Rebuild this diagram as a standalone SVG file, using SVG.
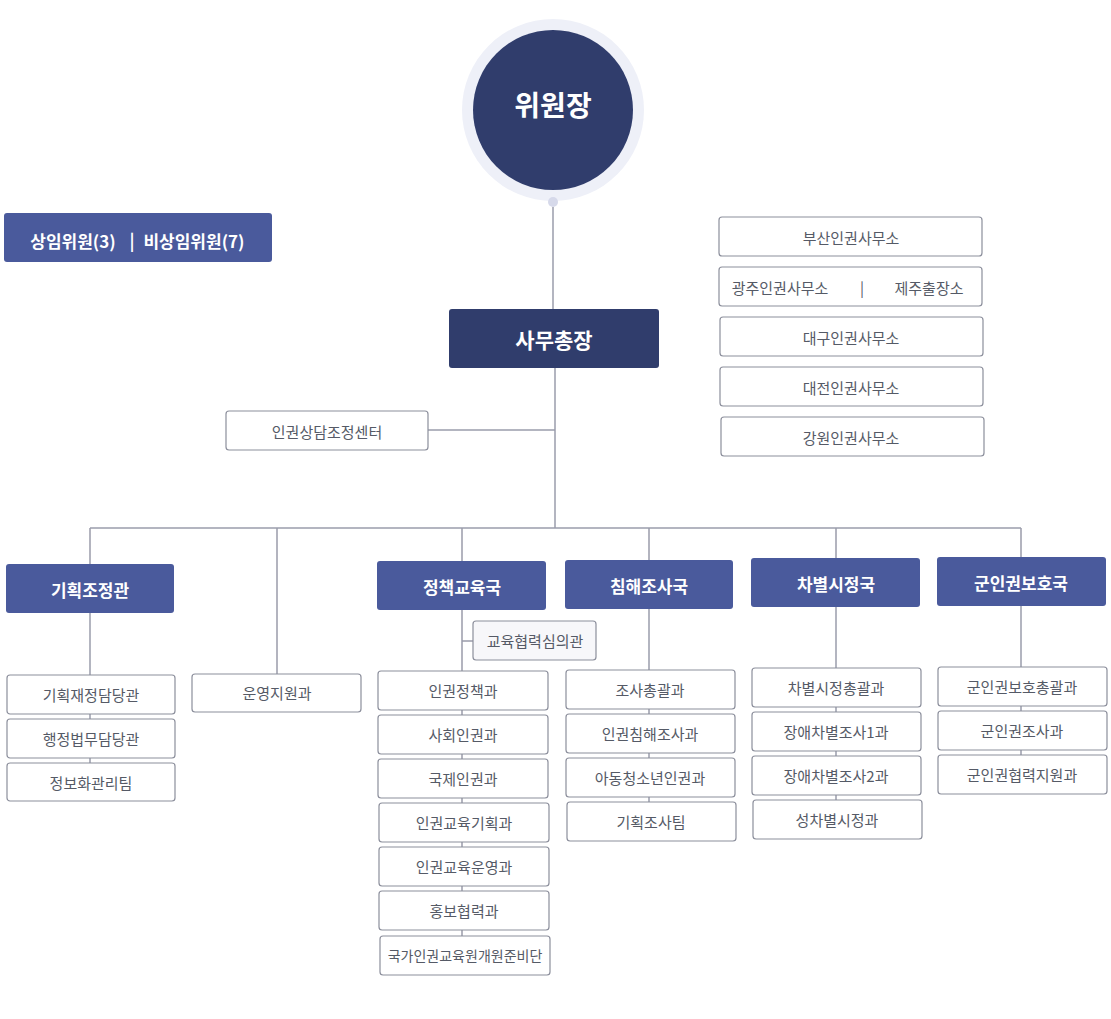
<svg xmlns="http://www.w3.org/2000/svg" width="1111" height="1019" viewBox="0 0 1111 1019">
<style>
text{font-family:"Noto Sans CJK KR","Noto Sans",sans-serif;text-anchor:middle;dominant-baseline:central}
.sub rect{fill:#ffffff;stroke:#8c8f9c;stroke-width:1.2}
.sub text{fill:#555a66;font-size:15px}
.hd rect{fill:#4a5a9c}
.hd text{fill:#ffffff;font-size:17px;font-weight:bold}
.ln{stroke:#9a9cab;stroke-width:1.5;fill:none}
</style>
<rect width="1111" height="1019" fill="#ffffff"/>
<g id="connectors" class="ln">
<path d="M553 207V310"/>
<path d="M555 368V528"/>
<path d="M428 430H555"/>
<path d="M90 528H1021"/>
<path d="M90 528V565M277 528V674M462 528V561M649 528V560M836 528V558M1021 528V557"/>
<path d="M90 613V763"/>
<path d="M462 610V936M462 641H473"/>
<path d="M649 609V802"/>
<path d="M836 607V800"/>
<path d="M1021 606V755"/>
</g>
<g id="chair">
<circle cx="553" cy="110" r="91" fill="#eef0f8"/>
<circle cx="553" cy="110" r="80" fill="#303d6c"/>
<text x="553" y="104" fill="#ffffff" font-size="28" font-weight="bold">위원장</text>
<circle cx="553" cy="202" r="5" fill="#d6d9ea"/>
</g>
<g id="commissioners" class="hd">
<rect x="4" y="213" width="268" height="49" rx="3"/>
<text x="73" y="240">상임위원(3)</text>
<text x="132" y="239">|</text>
<text x="194" y="240">비상임위원(7)</text>
</g>
<g id="secgen">
<rect x="449" y="309" width="210" height="59" rx="3" fill="#303d6c"/>
<text x="554" y="339" fill="#ffffff" font-size="21" font-weight="bold">사무총장</text>
</g>
<g id="center" class="sub">
<rect x="226" y="411" width="202" height="39" rx="3"/>
<text x="327" y="431">인권상담조정센터</text>
</g>
<g id="offices" class="sub">
<rect x="719" y="217" width="263" height="39" rx="3"/><text x="851" y="237">부산인권사무소</text>
<rect x="719" y="267" width="263" height="39" rx="3"/><text x="780" y="287">광주인권사무소</text><text x="862" y="287">|</text><text x="929" y="287">제주출장소</text>
<rect x="720" y="317" width="263" height="39" rx="3"/><text x="851" y="337">대구인권사무소</text>
<rect x="720" y="367" width="263" height="39" rx="3"/><text x="851" y="387">대전인권사무소</text>
<rect x="721" y="417" width="263" height="39" rx="3"/><text x="851" y="437">강원인권사무소</text>
</g>
<g id="h1" class="hd"><rect x="6" y="564" width="168" height="49" rx="3"/><text x="90" y="589">기획조정관</text></g>
<g id="h2" class="hd"><rect x="377" y="561" width="169" height="49" rx="3"/><text x="462" y="586">정책교육국</text></g>
<g id="h3" class="hd"><rect x="565" y="560" width="168" height="49" rx="3"/><text x="649" y="585">침해조사국</text></g>
<g id="h4" class="hd"><rect x="751" y="558" width="169" height="49" rx="3"/><text x="836" y="583">차별시정국</text></g>
<g id="h5" class="hd"><rect x="937" y="557" width="169" height="49" rx="3"/><text x="1021" y="582">군인권보호국</text></g>
<g id="col1" class="sub">
<rect x="7" y="675" width="168" height="39" rx="3"/><text x="91" y="694">기획재정담당관</text>
<rect x="7" y="719" width="168" height="39" rx="3"/><text x="91" y="738">행정법무담당관</text>
<rect x="7" y="763" width="168" height="38" rx="3"/><text x="91" y="782">정보화관리팀</text>
</g>
<g id="col1b" class="sub">
<rect x="192" y="674" width="169" height="38" rx="3"/><text x="277" y="692">운영지원과</text>
</g>
<g id="col2" class="sub">
<rect x="473" y="621" width="123" height="39" rx="3" style="fill:#f7f7fa"/><text x="535" y="640">교육협력심의관</text>
<rect x="378" y="671" width="170" height="39" rx="3"/><text x="463" y="690">인권정책과</text>
<rect x="378" y="715" width="170" height="39" rx="3"/><text x="463" y="734">사회인권과</text>
<rect x="378" y="759" width="170" height="39" rx="3"/><text x="463" y="778">국제인권과</text>
<rect x="379" y="803" width="170" height="39" rx="3"/><text x="464" y="822">인권교육기획과</text>
<rect x="379" y="847" width="170" height="39" rx="3"/><text x="464" y="866">인권교육운영과</text>
<rect x="379" y="891" width="170" height="39" rx="3"/><text x="464" y="910">홍보협력과</text>
<rect x="380" y="936" width="170" height="39" rx="3"/><text x="465" y="955" style="font-size:14px">국가인권교육원개원준비단</text>
</g>
<g id="col3" class="sub">
<rect x="566" y="670" width="169" height="39" rx="3"/><text x="650" y="689">조사총괄과</text>
<rect x="566" y="714" width="169" height="39" rx="3"/><text x="650" y="733">인권침해조사과</text>
<rect x="566" y="758" width="169" height="39" rx="3"/><text x="650" y="777">아동청소년인권과</text>
<rect x="567" y="802" width="169" height="39" rx="3"/><text x="651" y="821">기획조사팀</text>
</g>
<g id="col4" class="sub">
<rect x="752" y="668" width="169" height="39" rx="3"/><text x="836" y="687">차별시정총괄과</text>
<rect x="752" y="712" width="169" height="39" rx="3"/><text x="836" y="731">장애차별조사1과</text>
<rect x="752" y="756" width="169" height="39" rx="3"/><text x="836" y="775">장애차별조사2과</text>
<rect x="753" y="800" width="169" height="39" rx="3"/><text x="837" y="819">성차별시정과</text>
</g>
<g id="col5" class="sub">
<rect x="938" y="667" width="169" height="39" rx="3"/><text x="1022" y="686">군인권보호총괄과</text>
<rect x="938" y="711" width="169" height="39" rx="3"/><text x="1022" y="730">군인권조사과</text>
<rect x="938" y="755" width="169" height="39" rx="3"/><text x="1022" y="774">군인권협력지원과</text>
</g>
</svg>
